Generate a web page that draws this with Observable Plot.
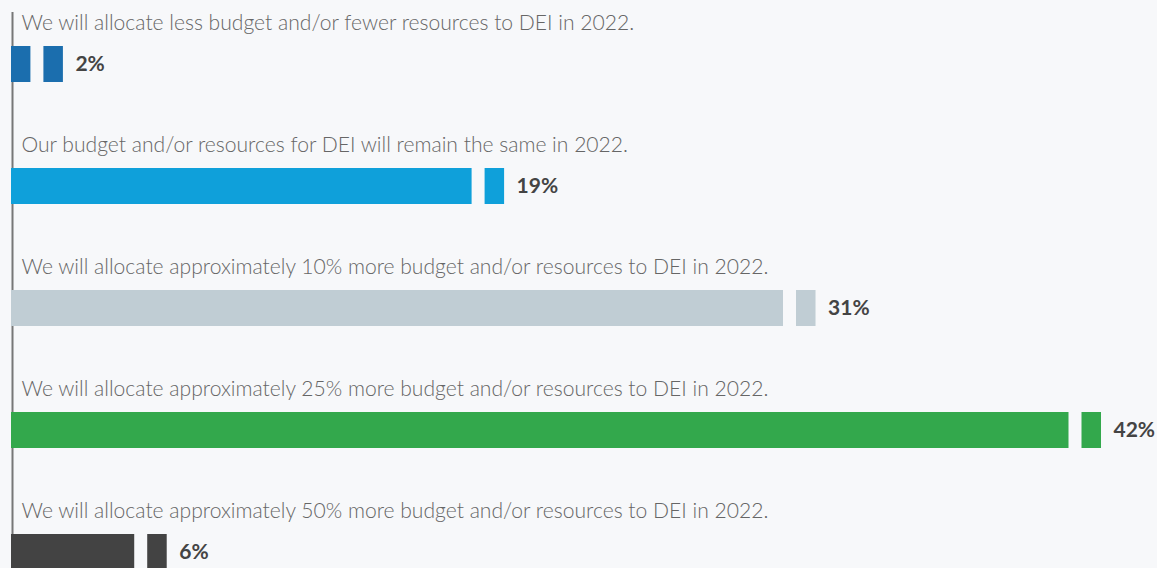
<!DOCTYPE html>
<html>
<head>
<meta charset="utf-8">
<script src="https://cdn.jsdelivr.net/npm/d3@7"></script>
<script src="https://cdn.jsdelivr.net/npm/@observablehq/plot@0.6"></script>
<style>
  html, body { margin: 0; padding: 0; background: #f7f8fa; }
  #chart svg { display: block; overflow: visible; }
</style>
</head>
<body>
<div id="chart"></div>
<script>
const categories = [
  "We will allocate less budget and/or fewer resources to DEI in 2022.",
  "Our budget and/or resources for DEI will remain the same in 2022.",
  "We will allocate approximately 10% more budget and/or resources to DEI in 2022.",
  "We will allocate approximately 25% more budget and/or resources to DEI in 2022.",
  "We will allocate approximately 50% more budget and/or resources to DEI in 2022."
];
const values = [2, 19, 31, 42, 6];
const colors = ["#1b6eae", "#0fa0da", "#c0cdd4", "#33a84c", "#434343"];

const data = categories.map((c, i) => ({ category: c, value: values[i], color: colors[i] }));
const bg = "#f7f8fa";

const chart = Plot.plot({
  width: 1157,
  height: 568,
  marginTop: 12,
  marginBottom: 0,
  marginLeft: 11,
  marginRight: 56,
  style: { background: bg, fontFamily: "Lato, sans-serif", overflow: "visible" },
  x: { domain: [0, 42], axis: null },
  y: { domain: categories, range: [44.75, 571.7], paddingInner: 0.702, paddingOuter: 0, axis: null },
  color: { domain: categories, range: colors },
  marks: [
    Plot.ruleX([0], { stroke: "#777", strokeWidth: 2, dx: 1 }),
    Plot.barX(data, { x: "value", y: "category", fill: "category" }),
    Plot.tickX(data, { x: "value", y: "category", stroke: bg, strokeWidth: 13, dx: -26.5 }),
    Plot.text(data, {
      y: "category", text: "category", frameAnchor: "left", textAnchor: "start",
      dx: 10, dy: -41, fontSize: 21.1, fontWeight: 300, fill: "#666"
    }),
    Plot.text(data, {
      x: "value", y: "category", text: d => d.value + "%", textAnchor: "start",
      dx: 12, fontSize: 21, fontWeight: 700, fill: "#444"
    })
  ]
});
document.getElementById("chart").appendChild(chart);
</script>
</body>
</html>
